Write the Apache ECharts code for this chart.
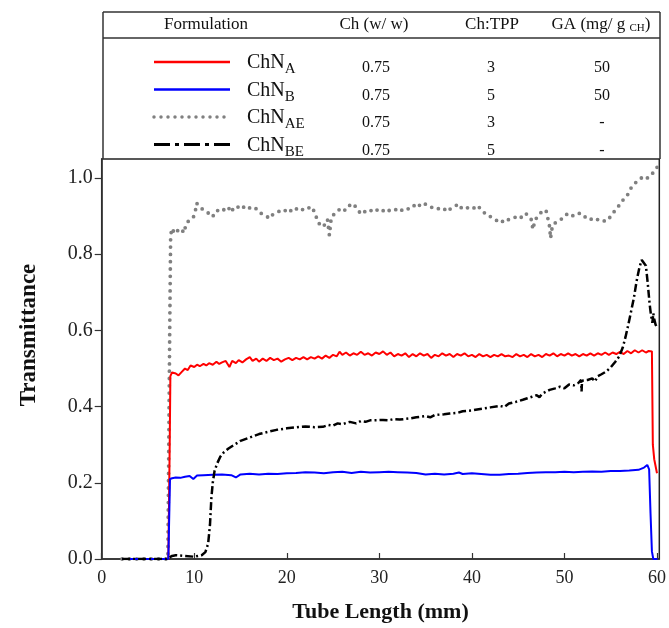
<!DOCTYPE html>
<html>
<head>
<meta charset="utf-8">
<script src="https://cdn.jsdelivr.net/npm/echarts@6/dist/echarts.min.js"></script>
<style>
html,body{margin:0;padding:0;background:#fff;}
#chart{width:669px;height:628px;}
</style>
</head>
<body>
<div id="chart"></div>
<script>
// ---------- table content ----------
const tableHeaders = ['Formulation', 'Ch (w/ w)', 'Ch:TPP'];
const gaHeaderMain = 'GA (mg/ g ';
const gaHeaderSub = 'CH';
const formulationSubs = ['A', 'B', 'AE', 'BE'];
const chValues = ['0.75', '0.75', '0.75', '0.75'];
const ratioValues = ['3', '5', '3', '5'];
const gaValues = ['50', '50', '-', '-'];

// ---------- axes ----------
const xTicks = [0, 10, 20, 30, 40, 50, 60];
const yTicks = [0, 0.2, 0.4, 0.6, 0.8, 1.0];
const xName = 'Tube Length (mm)';
const yName = 'Transmittance';

// ---------- series data [tube length (mm), transmittance] ----------
const chnA = [[2.2,0],[7.2,0],[7.35,0.3],[7.42,0.48],[7.6,0.49],[8.0,0.487],[8.3,0.482],[8.6,0.49],[9.0,0.5],[9.3,0.496],[9.6,0.508],[10.0,0.504],[10.3,0.51],[10.6,0.506],[11.0,0.512],[11.3,0.508],[11.6,0.514],[12.0,0.51],[12.4,0.518],[12.7,0.512],[13.0,0.516],[13.4,0.52],[13.8,0.504],[14.1,0.52],[14.5,0.514],[14.8,0.522],[15.2,0.516],[15.6,0.524],[16.0,0.53],[16.3,0.52],[16.7,0.526],[17.0,0.518],[17.4,0.526],[17.8,0.52],[18.2,0.528],[18.6,0.522],[19.0,0.526],[19.4,0.518],[19.8,0.524],[20.2,0.528],[20.6,0.522],[21.0,0.528],[21.4,0.524],[21.8,0.53],[22.2,0.524],[22.6,0.53],[23.0,0.526],[23.4,0.532],[23.8,0.526],[24.2,0.534],[24.6,0.528],[25.0,0.536],[25.4,0.532],[25.7,0.544],[26.0,0.536],[26.4,0.542],[26.8,0.534],[27.2,0.54],[27.6,0.536],[28.0,0.544],[28.4,0.536],[28.8,0.54],[29.2,0.534],[29.6,0.542],[30.0,0.538],[30.4,0.545],[30.8,0.536],[31.2,0.542],[31.6,0.532],[32.0,0.538],[32.4,0.534],[32.8,0.54],[33.2,0.53],[33.6,0.538],[34.0,0.532],[34.4,0.54],[34.8,0.534],[35.2,0.538],[35.6,0.528],[36.0,0.536],[36.4,0.532],[36.8,0.54],[37.2,0.534],[37.6,0.538],[38.0,0.53],[38.4,0.538],[38.8,0.534],[39.2,0.54],[39.6,0.532],[40.0,0.536],[40.4,0.53],[40.8,0.538],[41.2,0.532],[41.6,0.536],[42.0,0.53],[42.4,0.536],[42.8,0.532],[43.2,0.538],[43.6,0.532],[44.0,0.534],[44.4,0.53],[44.8,0.538],[45.2,0.532],[45.6,0.536],[46.0,0.53],[46.4,0.538],[46.8,0.532],[47.2,0.536],[47.6,0.53],[48.0,0.538],[48.4,0.534],[48.8,0.54],[49.2,0.532],[49.6,0.538],[50.0,0.534],[50.4,0.54],[50.8,0.534],[51.2,0.538],[51.6,0.532],[52.0,0.538],[52.4,0.534],[52.8,0.54],[53.2,0.534],[53.6,0.54],[54.0,0.536],[54.4,0.542],[54.8,0.536],[55.2,0.542],[55.6,0.538],[56.0,0.544],[56.4,0.538],[56.8,0.546],[57.2,0.54],[57.6,0.548],[58.0,0.542],[58.4,0.548],[58.8,0.542],[59.1,0.546],[59.45,0.545],[59.55,0.3],[59.7,0.262],[60.0,0.225]];

const chnB = [[2.2,0],[7.2,0],[7.38,0.21],[7.6,0.212],[8.0,0.214],[8.5,0.213],[9.0,0.216],[9.5,0.218],[9.9,0.21],[10.3,0.219],[11.0,0.22],[12.0,0.221],[13.0,0.222],[14.0,0.22],[14.5,0.214],[15.0,0.222],[16.0,0.224],[17.0,0.222],[18.0,0.224],[19.0,0.223],[20.0,0.225],[21.0,0.226],[22.0,0.228],[23.0,0.227],[24.0,0.225],[25.0,0.228],[26.0,0.229],[27.0,0.226],[28.0,0.229],[29.0,0.227],[30.0,0.228],[31.0,0.229],[32.0,0.228],[33.0,0.227],[34.0,0.226],[35.0,0.222],[36.0,0.224],[37.0,0.222],[38.0,0.224],[38.6,0.227],[39.0,0.223],[40.0,0.225],[41.0,0.223],[42.0,0.221],[43.0,0.221],[44.0,0.223],[45.0,0.224],[46.0,0.226],[47.0,0.227],[48.0,0.228],[49.0,0.228],[50.0,0.229],[51.0,0.228],[52.0,0.229],[53.0,0.23],[54.0,0.229],[55.0,0.231],[56.0,0.231],[57.0,0.232],[58.0,0.234],[58.6,0.24],[58.95,0.247],[59.15,0.235],[59.3,0.12],[59.45,0.02],[59.6,0],[60.05,0]];

const chnAE = [[2.2,0],[7.15,0],[7.25,0.3],[7.35,0.6],[7.45,0.85],[7.6,0.868],[7.8,0.858],[8.0,0.866],[8.3,0.86],[8.6,0.866],[8.9,0.856],[9.1,0.878],[9.3,0.885],[9.6,0.893],[9.9,0.897],[10.1,0.91],[10.25,0.934],[10.5,0.928],[10.8,0.92],[11.1,0.915],[11.4,0.91],[11.7,0.905],[12.0,0.898],[12.2,0.91],[12.5,0.915],[12.8,0.912],[13.1,0.918],[13.4,0.914],[13.7,0.922],[14.0,0.91],[14.3,0.924],[14.6,0.922],[14.9,0.926],[15.2,0.92],[15.5,0.928],[15.8,0.924],[16.1,0.92],[16.4,0.916],[16.7,0.92],[17.0,0.912],[17.3,0.906],[17.6,0.902],[17.9,0.898],[18.2,0.894],[18.5,0.905],[18.8,0.908],[19.1,0.912],[19.4,0.915],[19.7,0.918],[20.0,0.91],[20.3,0.916],[20.6,0.912],[20.9,0.92],[21.2,0.918],[21.5,0.922],[21.8,0.915],[22.1,0.918],[22.4,0.922],[22.7,0.925],[23.0,0.91],[23.3,0.89],[23.5,0.88],[23.8,0.885],[24.1,0.875],[24.4,0.89],[24.6,0.85],[24.8,0.895],[25.1,0.905],[25.4,0.91],[25.7,0.918],[26.0,0.922],[26.3,0.915],[26.6,0.925],[26.9,0.93],[27.2,0.933],[27.5,0.922],[27.8,0.912],[28.1,0.905],[28.4,0.912],[28.7,0.91],[29.0,0.916],[29.3,0.912],[29.6,0.918],[29.9,0.914],[30.2,0.91],[30.5,0.916],[30.8,0.92],[31.1,0.914],[31.4,0.918],[31.7,0.916],[32.0,0.92],[32.3,0.914],[32.6,0.918],[32.9,0.922],[33.2,0.918],[33.5,0.925],[33.8,0.928],[34.1,0.922],[34.4,0.93],[34.7,0.926],[35.0,0.932],[35.3,0.928],[35.6,0.924],[35.9,0.92],[36.2,0.922],[36.5,0.918],[36.8,0.914],[37.1,0.918],[37.4,0.912],[37.7,0.92],[38.0,0.924],[38.3,0.928],[38.6,0.932],[38.9,0.92],[39.2,0.918],[39.5,0.922],[39.8,0.92],[40.1,0.924],[40.4,0.918],[40.7,0.925],[41.0,0.918],[41.3,0.91],[41.6,0.902],[41.9,0.9],[42.2,0.896],[42.5,0.892],[42.8,0.886],[43.1,0.882],[43.4,0.888],[43.7,0.894],[44.0,0.89],[44.3,0.892],[44.6,0.896],[44.9,0.9],[45.2,0.895],[45.5,0.9],[45.8,0.908],[46.1,0.9],[46.4,0.892],[46.6,0.865],[46.8,0.888],[47.1,0.9],[47.4,0.908],[47.7,0.914],[48.0,0.916],[48.2,0.895],[48.4,0.872],[48.5,0.842],[48.7,0.875],[49.0,0.882],[49.3,0.886],[49.6,0.89],[49.9,0.9],[50.2,0.904],[50.5,0.908],[50.8,0.902],[51.1,0.9],[51.4,0.905],[51.7,0.908],[52.0,0.904],[52.3,0.896],[52.6,0.89],[52.9,0.892],[53.2,0.888],[53.5,0.892],[53.8,0.888],[54.1,0.89],[54.4,0.886],[54.7,0.89],[55.0,0.9],[55.3,0.91],[55.6,0.918],[55.9,0.928],[56.2,0.938],[56.5,0.948],[56.8,0.955],[57.1,0.97],[57.4,0.982],[57.7,0.988],[58.0,0.995],[58.3,1.0],[58.6,1.003],[58.9,0.998],[59.2,1.008],[59.5,1.012],[59.8,1.02],[60.05,1.03]];

const chnBE = [[2.2,0],[7.0,0],[7.3,0.004],[7.6,0.008],[8.0,0.01],[9.0,0.008],[10.0,0.006],[10.8,0.01],[11.2,0.018],[11.5,0.04],[11.7,0.09],[11.85,0.16],[12.0,0.2],[12.2,0.232],[12.5,0.252],[12.8,0.268],[13.2,0.28],[13.7,0.29],[14.2,0.298],[15.0,0.31],[16.0,0.319],[17.0,0.328],[18.0,0.334],[18.9,0.339],[20.0,0.343],[21.4,0.347],[22.0,0.348],[23.0,0.346],[23.9,0.347],[24.5,0.352],[25.0,0.35],[25.5,0.356],[26.0,0.354],[26.8,0.36],[27.5,0.356],[28.0,0.362],[28.5,0.36],[29.0,0.364],[30.4,0.365],[31.0,0.364],[31.5,0.367],[32.2,0.366],[33.3,0.369],[34.0,0.372],[35.0,0.375],[35.5,0.372],[36.0,0.378],[37.0,0.38],[37.6,0.382],[38.5,0.384],[39.0,0.388],[40.0,0.39],[41.2,0.395],[42.0,0.398],[43.0,0.402],[43.5,0.399],[44.0,0.408],[44.8,0.413],[45.5,0.418],[46.0,0.422],[46.5,0.426],[47.0,0.43],[47.3,0.425],[47.6,0.434],[48.4,0.444],[49.0,0.448],[49.5,0.452],[50.0,0.448],[50.5,0.458],[51.0,0.456],[51.5,0.462],[51.8,0.47],[51.85,0.44],[51.9,0.468],[52.5,0.47],[53.0,0.474],[53.3,0.466],[53.6,0.48],[54.0,0.485],[54.5,0.492],[55.0,0.503],[55.5,0.518],[55.9,0.531],[56.3,0.555],[56.6,0.583],[56.9,0.615],[57.2,0.65],[57.5,0.685],[57.8,0.73],[58.1,0.765],[58.35,0.785],[58.55,0.79],[58.8,0.77],[59.0,0.724],[59.2,0.67],[59.35,0.64],[59.5,0.62],[59.6,0.645],[59.7,0.63],[59.85,0.615],[60.05,0.605]];

// ---------- styles ----------
const SERIF = '"Liberation Serif", "Times New Roman", serif';
const seriesStyles = [
  {color: '#ff0000', width: 2, type: 'solid', cap: 'butt'},
  {color: '#0000ff', width: 2, type: 'solid', cap: 'butt'},
  {color: '#808080', width: 3.8, type: [0, 7.3], cap: 'round'},
  {color: '#000000', width: 2.5, type: [8, 3, 2, 3], cap: 'butt'}
];
const legendStyles = [
  {color: '#ff0000', width: 2.5, dash: null, cap: 'butt'},
  {color: '#0000ff', width: 2.5, dash: null, cap: 'butt'},
  {color: '#808080', width: 3.5, dash: [0, 7], cap: 'round'},
  {color: '#000000', width: 3, dash: [16, 5, 4, 5], cap: 'butt'}
];
const seriesData = [chnA, chnB, chnAE, chnBE];

// ---------- table graphics ----------
const tL = 103, tR = 660, tT = 12, tH = 38, tB = 159;
const rowY = [62, 89.5, 117, 144.5];
const headerX = [206, 374, 492];
const valueX = [376, 491, 602];
const graphics = [];
const border = {stroke: '#333', lineWidth: 1.5};
graphics.push({type: 'line', shape: {x1: tL, y1: tT, x2: tR, y2: tT}, style: border, silent: true});
graphics.push({type: 'line', shape: {x1: tL, y1: tH, x2: tR, y2: tH}, style: border, silent: true});
graphics.push({type: 'line', shape: {x1: tL, y1: tT, x2: tL, y2: tB}, style: border, silent: true});
graphics.push({type: 'line', shape: {x1: tR, y1: tT, x2: tR, y2: tB}, style: border, silent: true});
tableHeaders.forEach((h, i) => {
  graphics.push({type: 'text', x: headerX[i], y: 24.5, silent: true,
    style: {text: h, fill: '#111', font: '17px ' + SERIF, align: 'center', verticalAlign: 'middle'}});
});
graphics.push({type: 'text', x: 601, y: 24.5, silent: true,
  style: {text: '{n|' + gaHeaderMain + '}{s|' + gaHeaderSub + '}{n|)}', align: 'center', verticalAlign: 'middle',
    rich: {n: {fill: '#111', fontFamily: SERIF, fontSize: 17},
           s: {fill: '#111', fontFamily: SERIF, fontSize: 11, padding: [8, 0, 0, 0]}}}});
formulationSubs.forEach((sub, i) => {
  const y = rowY[i];
  const ls = legendStyles[i];
  graphics.push({type: 'line', silent: true, shape: {x1: 154, y1: y, x2: 230, y2: y},
    style: {stroke: ls.color, lineWidth: ls.width, lineDash: ls.dash, lineCap: ls.cap}});
  graphics.push({type: 'text', x: 247, y: y + 1, silent: true,
    style: {text: '{m|ChN}{s|' + sub + '}', align: 'left', verticalAlign: 'middle',
      rich: {m: {fill: '#111', fontFamily: SERIF, fontSize: 20},
             s: {fill: '#111', fontFamily: SERIF, fontSize: 15, padding: [13, 0, 0, 0]}}}});
  [chValues[i], ratioValues[i], gaValues[i]].forEach((v, j) => {
    graphics.push({type: 'text', x: valueX[j], y: y + 6, silent: true,
      style: {text: v, fill: '#111', font: '16px ' + SERIF, align: 'center', verticalAlign: 'middle'}});
  });
});
// y axis title (placed as in the reference, slightly above the plot centre)
graphics.push({type: 'text', x: 29, y: 335, rotation: Math.PI / 2, silent: true,
  style: {text: yName, fill: '#111', font: 'bold 23px ' + SERIF, align: 'center', verticalAlign: 'middle'}});

const chart = echarts.init(document.getElementById('chart'), null, {renderer: 'canvas'});
chart.setOption({
  animation: false,
  backgroundColor: '#fff',
  grid: {left: 101.7, right: 9, top: 159, bottom: 69, show: true, borderColor: '#222', borderWidth: 1.5, backgroundColor: 'transparent'},
  xAxis: {
    type: 'value', min: 0, max: 60.25,
    name: xName, nameLocation: 'middle', nameGap: 42,
    nameTextStyle: {fontFamily: SERIF, fontWeight: 'bold', fontSize: 22, color: '#111'},
    axisLine: {show: true, lineStyle: {color: '#333', width: 1.5}},
    axisTick: {show: true, inside: true, length: 6, customValues: xTicks, lineStyle: {color: '#333', width: 1.2}},
    axisLabel: {customValues: xTicks, fontFamily: SERIF, fontSize: 18, color: '#222', margin: 10},
    splitLine: {show: false}
  },
  yAxis: {
    type: 'value', min: 0, max: 1.05,
    axisLine: {show: true, lineStyle: {color: '#333', width: 1.5}},
    axisTick: {show: true, inside: false, length: 7, customValues: yTicks, lineStyle: {color: '#333', width: 1.2}},
    axisLabel: {customValues: yTicks, fontFamily: SERIF, fontSize: 20, color: '#222', margin: 9,
      formatter: v => v.toFixed(1)},
    splitLine: {show: false}
  },
  series: seriesData.map((d, i) => ({
    type: 'line', data: d, showSymbol: false, symbol: 'none', smooth: false,
    lineStyle: {color: seriesStyles[i].color, width: seriesStyles[i].width, type: seriesStyles[i].type, cap: seriesStyles[i].cap},
    z: [2, 3, 1, 4][i]
  })),
  graphic: graphics
});
</script>
</body>
</html>
